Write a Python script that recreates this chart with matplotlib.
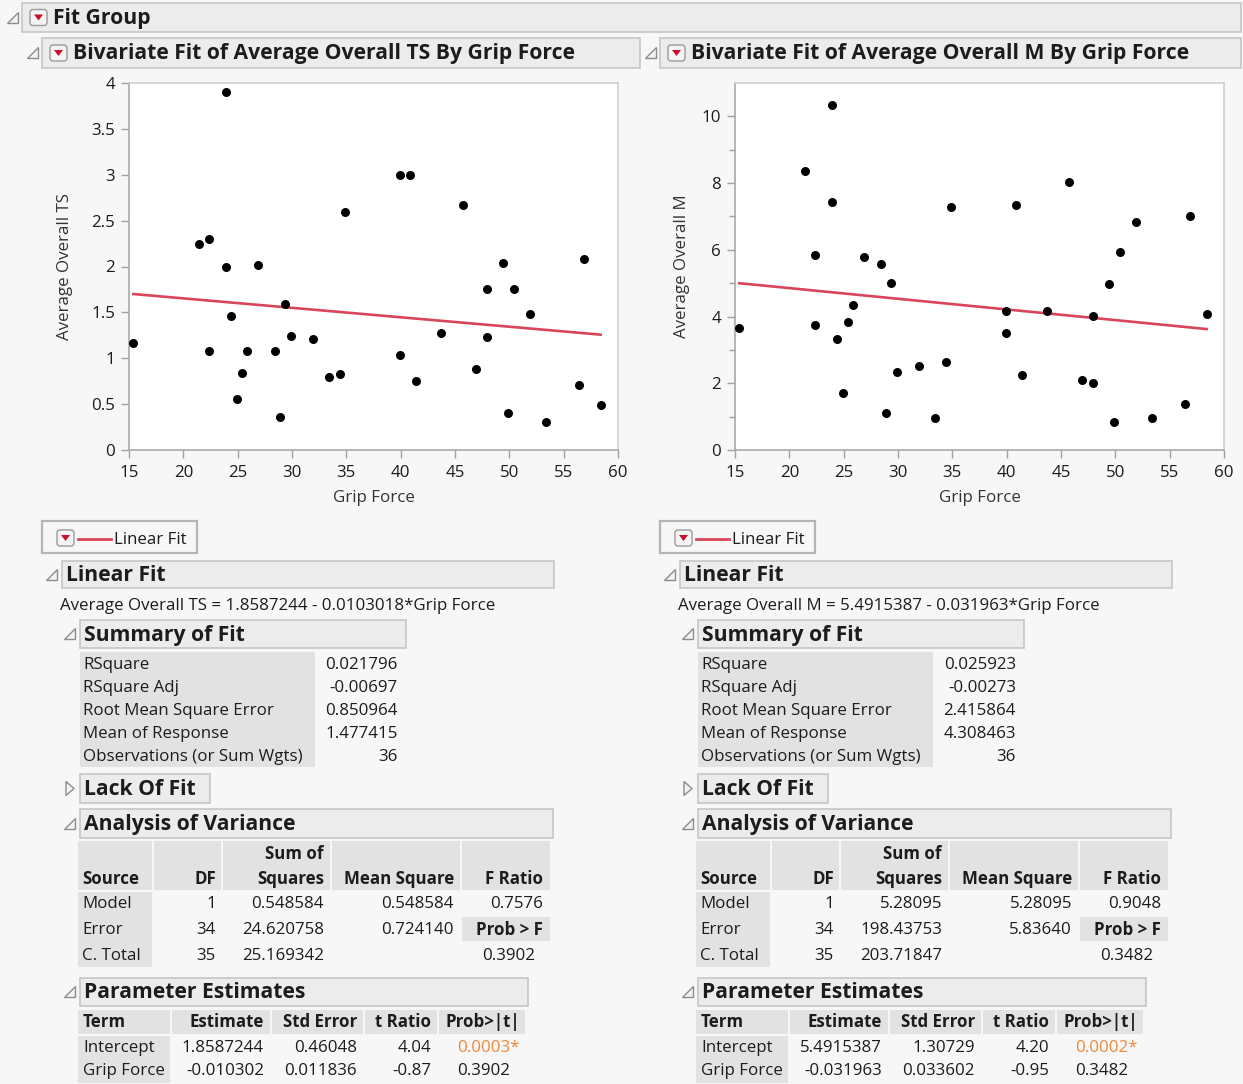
import matplotlib
matplotlib.use("Agg")
import matplotlib.pyplot as plt
from matplotlib.patches import Rectangle, Polygon, FancyBboxPatch

# ---- data ----
grip_force = [15.4, 21.4, 22.4, 22.4, 23.9, 23.9, 24.4, 24.9, 25.4, 25.9, 26.9, 28.4,
              28.9, 29.4, 29.9, 31.9, 33.4, 34.4, 34.9, 39.9, 39.9, 40.9, 41.4, 43.7,
              45.7, 46.9, 47.9, 47.9, 49.4, 49.9, 50.4, 51.9, 53.4, 56.4, 56.9, 58.4]
avg_ts = [1.17, 2.25, 2.30, 1.08, 3.90, 2.00, 1.46, 0.56, 0.84, 1.08, 2.02, 1.08,
          0.36, 1.59, 1.24, 1.21, 0.80, 0.83, 2.59, 3.00, 1.04, 3.00, 0.75, 1.28,
          2.67, 0.88, 1.75, 1.23, 2.04, 0.40, 1.75, 1.48, 0.30, 0.71, 2.08, 0.49]
avg_m = [3.67, 8.35, 5.84, 3.76, 10.35, 7.43, 3.34, 1.71, 3.83, 4.34, 5.77, 5.56,
         1.12, 5.01, 2.34, 2.51, 0.97, 2.63, 7.27, 4.17, 3.51, 7.35, 2.25, 4.16,
         8.02, 2.09, 2.01, 4.03, 4.97, 0.85, 5.93, 6.82, 0.96, 1.38, 7.01, 4.09]

fit_intercept = {"TS": 1.8587244, "M": 5.4915387}
fit_slope = {"TS": -0.0103018, "M": -0.031963}

summary_labels = ["RSquare", "RSquare Adj", "Root Mean Square Error", "Mean of Response",
                  "Observations (or Sum Wgts)"]
summary_ts = ["0.021796", "-0.00697", "0.850964", "1.477415", "36"]
summary_m = ["0.025923", "-0.00273", "2.415864", "4.308463", "36"]

anova_sources = ["Model", "Error", "C. Total"]
anova_df = ["1", "34", "35"]
anova_ss_ts = ["0.548584", "24.620758", "25.169342"]
anova_ms_ts = ["0.548584", "0.724140", ""]
anova_ss_m = ["5.28095", "198.43753", "203.71847"]
anova_ms_m = ["5.28095", "5.83640", ""]
f_ratio = {"TS": "0.7576", "M": "0.9048"}
prob_f = {"TS": "0.3902", "M": "0.3482"}

terms = ["Intercept", "Grip Force"]
est_ts = ["1.8587244", "-0.010302"]
se_ts = ["0.46048", "0.011836"]
t_ts = ["4.04", "-0.87"]
p_ts = ["0.0003*", "0.3902"]
est_m = ["5.4915387", "-0.031963"]
se_m = ["1.30729", "0.033602"]
t_m = ["4.20", "-0.95"]
p_m = ["0.0002*", "0.3482"]

W, H = 1243, 1084
BG = "#f7f7f7"
BAR = "#ececec"
BAR_EDGE = "#c6c6c6"
CELL = "#e2e2e2"
TXT = "#1c1c1c"
RED = "#d9465a"
FONT = ["Open Sans", "DejaVu Sans"]
REG = 12.2     # regular report text
HEAD = 15.2    # outline headers
TH = 12.2      # bold table headers

plt.rcParams["font.family"] = FONT

fig = plt.figure(figsize=(W / 100, H / 100), dpi=100, facecolor=BG)
bg = fig.add_axes([0, 0, 1, 1], zorder=0)
bg.set_xlim(0, W)
bg.set_ylim(H, 0)
bg.axis("off")


def txt(x, y, s, size=REG, bold=False, ha="left", color=TXT):
    bg.text(x, y + 1, s, fontsize=size, fontweight="bold" if bold else "normal",
            ha=ha, va="center", color=color)


def rect(x0, y0, x1, y1, fc, ec="none", lw=1.2):
    bg.add_patch(Rectangle((x0, y0), x1 - x0, y1 - y0, fc=fc, ec=ec, lw=lw))


def triangle(cx, cy, closed=False):
    if closed:
        pts = [(cx - 4, cy - 7), (cx + 4, cy), (cx - 4, cy + 7)]
    else:
        pts = [(cx + 5, cy - 6), (cx + 5, cy + 5), (cx - 6, cy + 5)]
    bg.add_patch(Polygon(pts, closed=True, fc="#f2f2f2", ec="#8c8c8c", lw=1.0))


def button(x0, cy):
    bg.add_patch(FancyBboxPatch((x0, cy - 8), 17, 16, boxstyle="round,pad=0,rounding_size=3",
                                fc="#f4f4f4", ec="#9a9a9a", lw=1.0))
    bg.add_patch(Polygon([(x0 + 4, cy - 3), (x0 + 13, cy - 3), (x0 + 8.5, cy + 3)],
                         closed=True, fc="#c8102e", ec="none"))


def header(x0, x1, y0, y1, label, closed=False, with_button=False, tri_x=None):
    rect(x0, y0, x1, y1, BAR, BAR_EDGE, 1.2)
    cy = (y0 + y1) / 2
    triangle(x0 - 10 if tri_x is None else tri_x, cy, closed)
    tx = x0 + 4
    if with_button:
        button(x0 + 8, cy)
        tx = x0 + 31
    txt(tx, cy, label, size=HEAD, bold=True)


# top level group
header(22, 1241, 3, 32, "Fit Group", with_button=True, tri_x=13)


def report(dx, pdx, key, ylabel, ys, ylim, yticks, yminor, ylabelpad,
           summary, ss, ms, est, se, tr, pv):
    header(42 + dx, 640 + dx if dx == 0 else 1241, 38, 68,
           f"Bivariate Fit of {ylabel} By Grip Force", with_button=True, tri_x=33 + dx)

    # scatter plot
    x0, x1, y0, y1 = 129 + pdx, 618 + pdx, 83, 450
    ax = fig.add_axes([x0 / W, 1 - y1 / H, (x1 - x0) / W, (y1 - y0) / H], zorder=2)
    ax.set_facecolor("white")
    ax.scatter(grip_force, ys, s=42, color="black", zorder=3, linewidths=0)
    xs = [min(grip_force), max(grip_force)]
    ax.plot(xs, [fit_intercept[key] + fit_slope[key] * v for v in xs],
            color=RED, lw=1.9, zorder=2)
    ax.set_xlim(15, 60)
    ax.set_ylim(*ylim)
    ax.set_xticks(range(15, 61, 5))
    ax.set_yticks(yticks)
    ax.set_yticklabels([f"{v:g}" for v in yticks])
    if yminor:
        ax.set_yticks(yminor, minor=True)
    for side, sp in ax.spines.items():
        sp.set_color("#a9a9a9" if side in ("left", "bottom") else "#cfcfcf")
        sp.set_linewidth(1.2)
    ax.tick_params(which="major", length=6, width=1, color="#a0a0a0",
                   labelsize=REG, labelcolor=TXT, pad=4)
    ax.tick_params(axis="x", pad=5)
    ax.tick_params(which="minor", length=4, width=1, color="#a0a0a0")
    ax.set_xlabel("Grip Force", fontsize=REG, color="#333333", labelpad=6)
    ax.set_ylabel(ylabel, fontsize=REG, color="#333333", labelpad=ylabelpad)

    # legend chip
    rect(42 + dx, 521, 197 + dx, 553, BG, "#b4b4b4", 1.6)
    button(57 + dx, 538)
    bg.plot([78 + dx, 111 + dx], [539, 539], color=RED, lw=2)
    txt(114 + dx, 539, "Linear Fit")

    # linear fit
    header(62 + dx, 554 + dx, 561, 588, "Linear Fit")
    b = fit_intercept[key]
    m = fit_slope[key]
    txt(60 + dx, 605, f"{ylabel} = {b:.7f} - {abs(m):.7g}*Grip Force")

    header(80 + dx, 406 + dx, 620, 648, "Summary of Fit")
    rect(80 + dx, 652, 315 + dx, 767, CELL)
    for i, (lab, val) in enumerate(zip(summary_labels, summary)):
        yy = 664 + 23 * i
        txt(83 + dx, yy, lab)
        txt(398 + dx, yy, val, ha="right")

    header(80 + dx, 210 + dx, 774, 803, "Lack Of Fit", closed=True)

    header(80 + dx, 553 + dx, 809, 838, "Analysis of Variance")
    cols = [(78, 152), (154, 221), (223, 330), (332, 460), (462, 550)]
    for c0, c1 in cols:
        rect(c0 + dx, 841, c1 + dx, 890, CELL)
    rect(78 + dx, 892, 152 + dx, 967, CELL)
    rect(462 + dx, 917, 550 + dx, 941, CELL)
    txt(82 + dx, 878, "Source", size=TH, bold=True)
    txt(216 + dx, 878, "DF", size=TH, bold=True, ha="right")
    txt(324 + dx, 853, "Sum of", size=TH, bold=True, ha="right")
    txt(324 + dx, 878, "Squares", size=TH, bold=True, ha="right")
    txt(454 + dx, 878, "Mean Square", size=TH, bold=True, ha="right")
    txt(543 + dx, 878, "F Ratio", size=TH, bold=True, ha="right")
    for i in range(3):
        yy = 903 + 26 * i
        txt(82 + dx, yy, anova_sources[i])
        txt(216 + dx, yy, anova_df[i], ha="right")
        txt(324 + dx, yy, ss[i], ha="right")
        txt(454 + dx, yy, ms[i], ha="right")
    txt(543 + dx, 903, f_ratio[key], ha="right")
    txt(543 + dx, 929, "Prob > F", size=TH, bold=True, ha="right")
    txt(535 + dx, 955, prob_f[key], ha="right")

    header(80 + dx, 528 + dx, 978, 1006, "Parameter Estimates")
    pcols = [(78, 170), (172, 270), (272, 363), (365, 437), (439, 525)]
    for c0, c1 in pcols:
        rect(c0 + dx, 1010, c1 + dx, 1034, CELL)
    rect(78 + dx, 1036, 170 + dx, 1083, CELL)
    txt(83 + dx, 1021, "Term", size=TH, bold=True)
    txt(264 + dx, 1021, "Estimate", size=TH, bold=True, ha="right")
    txt(357 + dx, 1021, "Std Error", size=TH, bold=True, ha="right")
    txt(431 + dx, 1021, "t Ratio", size=TH, bold=True, ha="right")
    txt(520 + dx, 1021, "Prob>|t|", size=TH, bold=True, ha="right")
    for i in range(2):
        yy = 1047 + 23 * i
        txt(83 + dx, yy, terms[i])
        txt(264 + dx, yy, est[i], ha="right")
        txt(357 + dx, yy, se[i], ha="right")
        txt(431 + dx, yy, tr[i], ha="right")
        txt(457 + dx, yy, pv[i], color="#f0883a" if pv[i].endswith("*") else TXT)


report(0, 0, "TS", "Average Overall TS", avg_ts, (0, 4),
       [0, 0.5, 1, 1.5, 2, 2.5, 3, 3.5, 4], None, 13.4,
       summary_ts, anova_ss_ts, anova_ms_ts, est_ts, se_ts, t_ts, p_ts)
report(618, 606, "M", "Average Overall M", avg_m, (0, 11),
       [0, 2, 4, 6, 8, 10], [1, 3, 5, 7, 9], 8.0,
       summary_m, anova_ss_m, anova_ms_m, est_m, se_m, t_m, p_m)

fig.savefig("out.png", dpi=100, facecolor=BG)
